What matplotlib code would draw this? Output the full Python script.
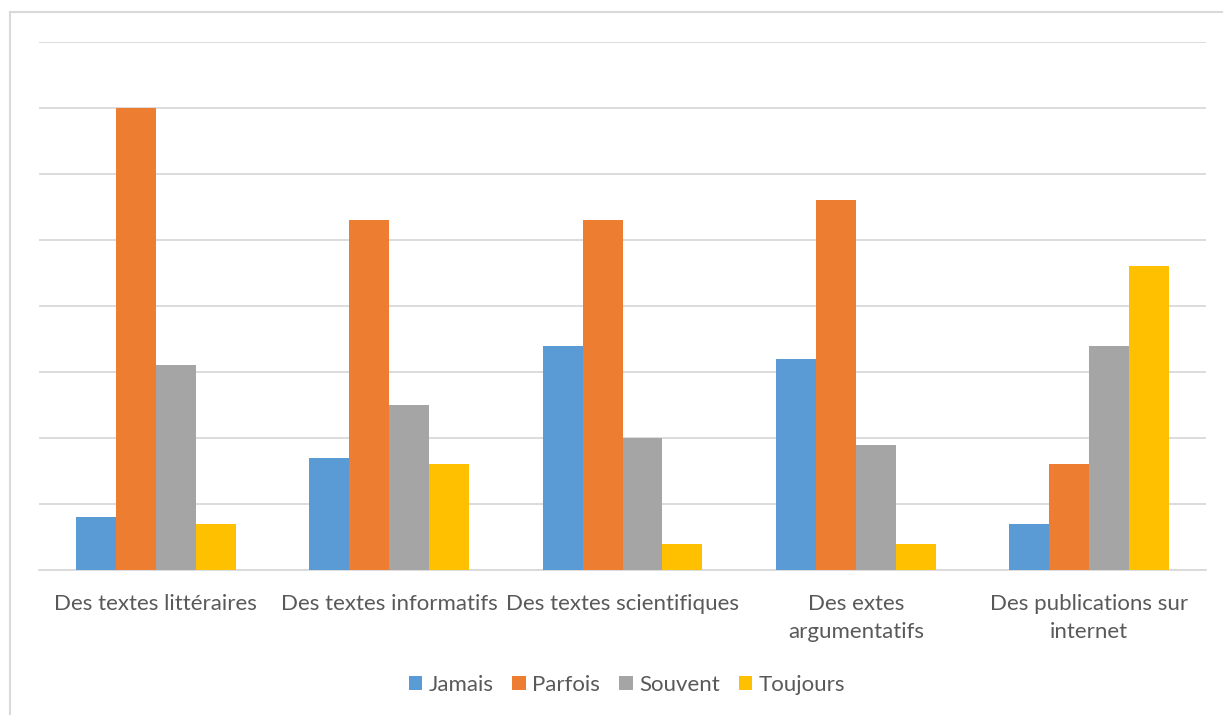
import matplotlib
matplotlib.use("Agg")
import matplotlib.pyplot as plt
import numpy as np
from matplotlib.lines import Line2D

categories = ["Des textes littéraires", "Des textes informatifs", "Des textes scientifiques",
              "Des extes\nargumentatifs", "Des publications sur\ninternet"]
series_names = ["Jamais", "Parfois", "Souvent", "Toujours"]
jamais = [8, 17, 34, 32, 7]
parfois = [70, 53, 53, 56, 16]
souvent = [31, 25, 20, 19, 34]
toujours = [7, 16, 4, 4, 46]
colors = ["#5b9bd5", "#ed7d31", "#a5a5a5", "#ffc000"]

plt.rcParams['font.family'] = ['Lato', 'DejaVu Sans']
W, H = 1223, 715
fig = plt.figure(figsize=(W / 100, H / 100), dpi=100)
ax = fig.add_axes([39 / W, (H - 570) / H, (1206 - 39) / W, (570 - 42) / H])

x = np.arange(len(categories))
bw = 0.171
for i, (vals, c, name) in enumerate(zip([jamais, parfois, souvent, toujours], colors, series_names)):
    ax.bar(x + (i - 1.5) * bw, vals, width=bw, color=c, label=name, zorder=3)

ax.set_xlim(-0.5, len(categories) - 0.5)
ax.set_ylim(0, 80)
ax.set_yticks(np.arange(0, 81, 10))
ax.yaxis.grid(True, color="#d9d9d9", linewidth=1.3, zorder=0)
ax.tick_params(axis="y", left=False, labelleft=False)
ax.set_xticks(x)
ax.set_xticklabels(categories, fontsize=16, color="#595959", linespacing=1.5, va="top")
ax.tick_params(axis="x", bottom=False, pad=14)
for s in ["top", "right", "left"]:
    ax.spines[s].set_visible(False)
ax.spines["bottom"].set_color("#d9d9d9")
ax.spines["bottom"].set_linewidth(1.3)

# outer chart frame (left and top edges)
fig.add_artist(Line2D([9.5 / W, 9.5 / W], [0, 1 - 12 / H], transform=fig.transFigure,
                      color="#d9d9d9", linewidth=1.5))
fig.add_artist(Line2D([9.5 / W, 1], [1 - 12 / H, 1 - 12 / H], transform=fig.transFigure,
                      color="#d9d9d9", linewidth=1.5))

leg = fig.legend(loc="center", bbox_to_anchor=(627 / W, 1 - 685 / H), ncol=4, frameon=False,
                 fontsize=16, handlelength=0.6, handleheight=0.6, handletextpad=0.3,
                 columnspacing=0.85)
for t in leg.get_texts():
    t.set_color("#595959")

fig.savefig("out.png", dpi=100)
